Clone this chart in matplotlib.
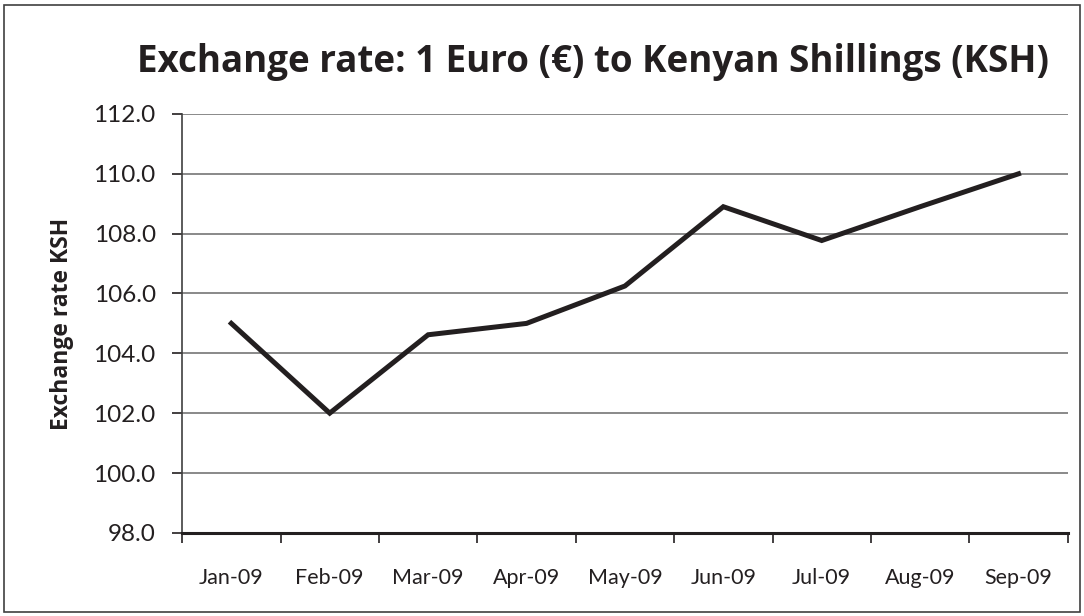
import numpy as np
import matplotlib.pyplot as plt
from matplotlib.patches import Rectangle

months = ['Jan-09', 'Feb-09', 'Mar-09', 'Apr-09', 'May-09',
          'Jun-09', 'Jul-09', 'Aug-09', 'Sep-09']
rates = [105.0, 102.0, 104.62, 105.0, 106.25, 108.9, 107.77, 108.9, 110.0]
yticks = [98, 100, 102, 104, 106, 108, 110, 112]

plt.rcParams['font.family'] = ['Lato', 'DejaVu Sans']
bold_font = ['Open Sans', 'DejaVu Sans']

fig = plt.figure(figsize=(10.84, 6.16), dpi=100)
ax = fig.add_axes([0.168, 0.135, 0.817, 0.68])

x = np.arange(len(months))
ax.plot(x, rates, color='#231f20', lw=3.6, solid_joinstyle='miter', zorder=3)

ax.set_xlim(-0.5, len(months) - 0.5)
ax.set_ylim(98, 112)
ax.set_yticks(yticks)
ax.set_yticklabels(['%.1f' % v for v in yticks], fontsize=17.5, color='#231f20')
ax.yaxis.grid(True, color='#808080', lw=1.3)
ax.set_axisbelow(True)

# ticks at category boundaries, labels at centres
ax.set_xticks(np.arange(-0.5, len(months), 1.0))
ax.set_xticklabels([])
ax.set_xticks(x, minor=True)
ax.set_xticklabels(months, minor=True, fontsize=15.5, color='#231f20')
ax.tick_params(axis='x', which='major', length=7, width=1.2, color='#231f20', direction='out')
ax.tick_params(axis='x', which='minor', length=0, pad=25)
ax.tick_params(axis='y', length=7, width=1.2, color='#231f20', pad=12)

for s in ['top', 'right']:
    ax.spines[s].set_visible(False)
ax.spines['bottom'].set_linewidth(2.2)
ax.spines['bottom'].set_color('#231f20')
ax.spines['left'].set_linewidth(1.2)
ax.spines['left'].set_color('#404040')

ax.set_ylabel('Exchange rate KSH', fontsize=16.5, fontweight='bold', family=bold_font,
              color='#231f20', labelpad=14)

fig.text(0.547, 0.9, 'Exchange rate: 1 Euro (€) to Kenyan Shillings (KSH)',
         ha='center', va='center', fontsize=26.5, fontweight='bold', family=bold_font,
         color='#231f20')

fig.patches.append(Rectangle((0.004, 0.006), 0.992, 0.986, transform=fig.transFigure,
                             fill=False, edgecolor='#404040', lw=1.2))

fig.savefig('out.png', dpi=100)
